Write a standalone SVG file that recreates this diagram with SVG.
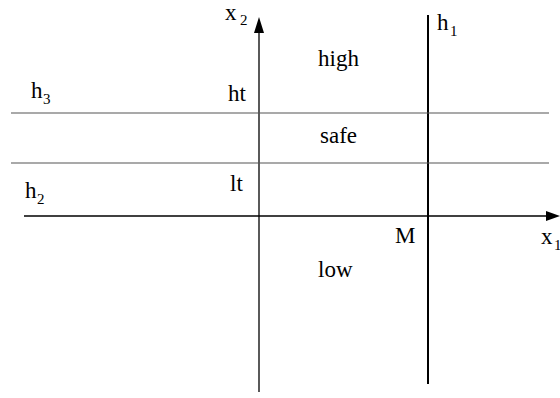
<svg xmlns="http://www.w3.org/2000/svg" width="560" height="398" viewBox="0 0 560 398">
<defs>
<style>
text{font-family:"Liberation Serif","Times New Roman",serif;fill:#000}
.t{font-size:23px}
.s{font-size:15px}
.ax{stroke:#000;stroke-width:1.3;fill:none}
.hl{stroke:#555;stroke-width:1.2;fill:none}
</style>
</defs>
<rect width="560" height="398" fill="#fff"/>
<g id="connectors">
<line class="ax" x1="259" y1="392" x2="259" y2="30"/>
<polygon points="259,17 254,33 264,33" fill="#000"/>
<line class="ax" x1="24" y1="216" x2="548" y2="216"/>
<polygon points="560,216 546,211 546,221" fill="#000"/>
<line x1="428" y1="15" x2="428" y2="384" stroke="#000" stroke-width="2"/>
<line class="hl" x1="11" y1="113" x2="549" y2="113"/>
<line class="hl" x1="11" y1="163" x2="549" y2="163"/>
</g>
<g id="x2"><text class="t" x="225" y="20">x</text><text class="s" x="240" y="25">2</text></g>
<g id="h1"><text class="t" x="437" y="30">h</text><text class="s" x="450" y="36">1</text></g>
<g id="h3"><text class="t" x="31" y="98">h</text><text class="s" x="43" y="104">3</text></g>
<g id="h2"><text class="t" x="25" y="198">h</text><text class="s" x="37" y="204">2</text></g>
<g id="x1"><text class="t" x="541" y="244">x</text><text class="s" x="554" y="250">1</text></g>
<g id="high"><text class="t" x="318" y="66">high</text></g>
<g id="ht"><text class="t" x="228" y="101">ht</text></g>
<g id="safe"><text class="t" x="320" y="143">safe</text></g>
<g id="lt"><text class="t" x="230" y="191">lt</text></g>
<g id="M"><text class="t" x="395" y="243">M</text></g>
<g id="low"><text class="t" x="318" y="277">low</text></g>
</svg>
